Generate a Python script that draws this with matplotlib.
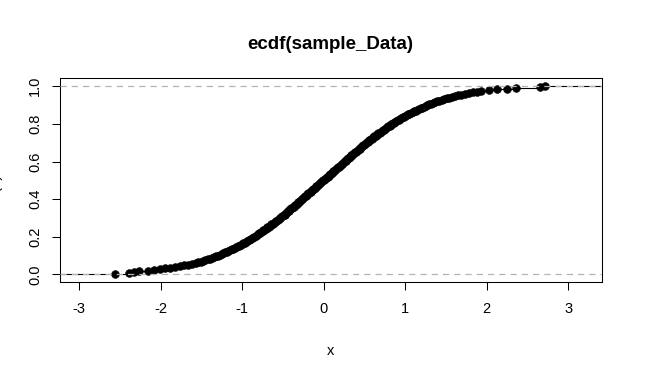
import numpy as np
import matplotlib
matplotlib.use("Agg")
import matplotlib.pyplot as plt

# sample values (lower half, upper half)
lower_half = [
    -2.56, -2.39, -2.33, -2.26, -2.16, -2.08, -2.01, -1.94, -1.88, -1.82,
    -1.76, -1.71, -1.67, -1.61, -1.57, -1.54, -1.51, -1.48, -1.45, -1.42,
    -1.39, -1.37, -1.34, -1.32, -1.29, -1.27, -1.25, -1.23, -1.21, -1.19,
    -1.17, -1.15, -1.13, -1.11, -1.09, -1.07, -1.05, -1.04, -1.02, -1.00,
    -0.99, -0.97, -0.95, -0.94, -0.92, -0.91, -0.89, -0.88, -0.86, -0.85,
    -0.83, -0.82, -0.81, -0.79, -0.78, -0.77, -0.75, -0.74, -0.73, -0.71,
    -0.70, -0.69, -0.67, -0.66, -0.65, -0.64, -0.62, -0.61, -0.60, -0.59,
    -0.58, -0.56, -0.55, -0.54, -0.53, -0.52, -0.51, -0.49, -0.48, -0.47,
    -0.46, -0.45, -0.44, -0.43, -0.42, -0.41, -0.40, -0.39, -0.37, -0.36,
    -0.35, -0.34, -0.33, -0.32, -0.31, -0.30, -0.29, -0.28, -0.27, -0.26,
    -0.25, -0.24, -0.23, -0.22, -0.21, -0.20, -0.19, -0.18, -0.16, -0.15,
    -0.14, -0.13, -0.12, -0.11, -0.10, -0.09, -0.08, -0.07, -0.06, -0.05,
    -0.04, -0.03, -0.02, -0.01,
]
upper_half = [
    0.01, 0.02, 0.03, 0.04, 0.05, 0.06, 0.07, 0.08, 0.09, 0.10,
    0.11, 0.12, 0.13, 0.14, 0.15, 0.16, 0.18, 0.19, 0.20, 0.21,
    0.22, 0.23, 0.24, 0.25, 0.26, 0.27, 0.28, 0.29, 0.30, 0.31,
    0.32, 0.33, 0.34, 0.35, 0.36, 0.37, 0.39, 0.40, 0.41, 0.42,
    0.43, 0.44, 0.45, 0.46, 0.47, 0.48, 0.49, 0.51, 0.52, 0.53,
    0.54, 0.55, 0.56, 0.58, 0.59, 0.60, 0.61, 0.62, 0.64, 0.65,
    0.66, 0.67, 0.69, 0.70, 0.71, 0.73, 0.74, 0.75, 0.77, 0.78,
    0.79, 0.81, 0.82, 0.83, 0.85, 0.86, 0.88, 0.89, 0.91, 0.92,
    0.94, 0.95, 0.97, 0.99, 1.00, 1.02, 1.04, 1.05, 1.07, 1.09,
    1.11, 1.13, 1.15, 1.17, 1.19, 1.21, 1.23, 1.25, 1.27, 1.29,
    1.32, 1.34, 1.37, 1.39, 1.42, 1.45, 1.48, 1.51, 1.54, 1.57,
    1.61, 1.65, 1.69, 1.73, 1.78, 1.83, 1.88, 1.93, 2.03, 2.12,
    2.25, 2.36, 2.65, 2.71,
]
x_ticks = [-3, -2, -1, 0, 1, 2, 3]
y_ticks = [0.0, 0.2, 0.4, 0.6, 0.8, 1.0]

sample_Data = np.sort(np.array(lower_half + upper_half))
n = len(sample_Data)
Fn = np.arange(1, n + 1) / n

plt.rcParams["font.family"] = ["Liberation Sans", "DejaVu Sans"]
fig = plt.figure(figsize=(6.61, 3.80), dpi=100)
ax = fig.add_axes([59.5 / 661, 1 - 282 / 380, (601.7 - 59.5) / 661, (282 - 78) / 380])

xlim = (-3.24, 3.41)
ax.set_xlim(xlim)
ax.set_ylim(-0.04, 1.044)

# horizontal steps of the ecdf
ax.hlines(Fn[:-1], sample_Data[:-1], sample_Data[1:], color="black", lw=0.8)
ax.hlines([0, 1], [xlim[0], sample_Data[-1]], [sample_Data[0], xlim[1]], color="black", lw=0.8)
ax.plot(sample_Data, Fn, "o", color="black", ms=5.6, mec="black", mew=0.4)

# grey reference lines
for h in [0, 1]:
    ax.axhline(h, color="#b3b3b3", lw=0.9, linestyle=(0, (5, 4)), zorder=3)

ax.set_xticks(x_ticks)
ax.set_xticklabels([str(t) for t in x_ticks])
ax.set_yticks(y_ticks)
ax.set_yticklabels(["%.1f" % t for t in y_ticks], rotation=90, va="center")
ax.tick_params(axis="both", labelsize=10.5, length=5.5, width=0.75, color="black")
ax.tick_params(axis="x", pad=9)
ax.tick_params(axis="y", pad=7)
for s in ax.spines.values():
    s.set_linewidth(0.75)

ax.set_title("ecdf(sample_Data)", fontsize=13.5, fontweight="bold", pad=21)
ax.set_xlabel("x", fontsize=10.5, labelpad=20)
fig.text(-5 / 661, 0.5 + 0.0, "Fn(x)", rotation=90, ha="center", va="center", fontsize=10.5)

fig.savefig("out.png", dpi=100)
